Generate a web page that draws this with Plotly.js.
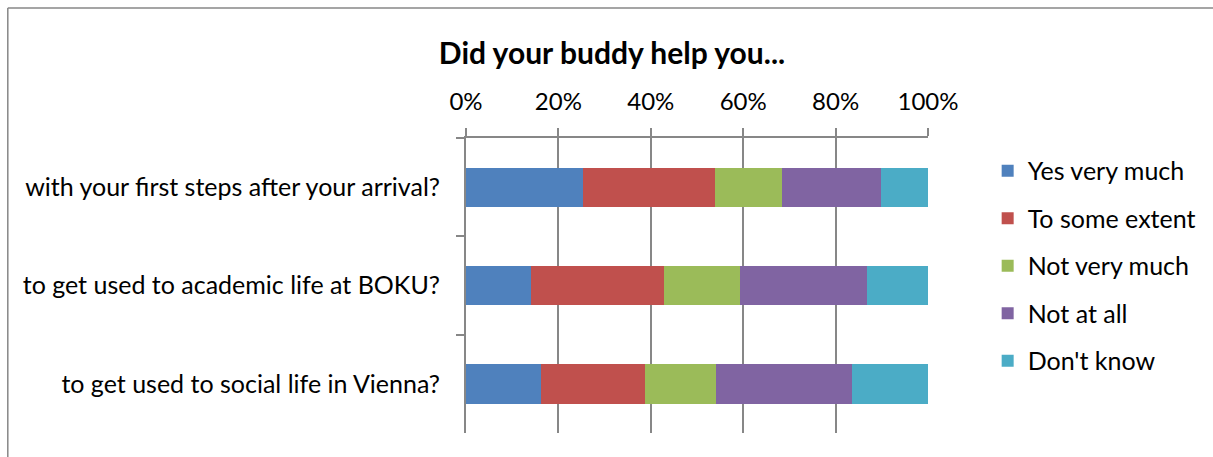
<!DOCTYPE html>
<html>
<head>
<meta charset="utf-8">
<script src="https://cdn.plot.ly/plotly-3.0.1.min.js"></script>
<style>
html,body{margin:0;padding:0;background:#fff;}
#chart{width:1213px;height:457px;}
</style>
</head>
<body>
<div id="chart"></div>
<script>
const categories = [
  "with your first steps after your arrival?",
  "to get used to academic life at BOKU?",
  "to get used to social life in Vienna?"
];
const seriesNames = ["Yes very much", "To some extent", "Not very much", "Not at all", "Don't know"];
const yesVeryMuch  = [25.4, 14.1, 16.2];
const toSomeExtent = [28.6, 28.7, 22.5];
const notVeryMuch  = [14.4, 16.5, 15.4];
const notAtAll     = [21.4, 27.4, 29.5];
const dontKnow     = [10.2, 13.3, 16.4];
const colors = ["#4F81BD", "#C0504D", "#9BBB59", "#8064A2", "#4BACC6"];
const tickVals = [0, 20, 40, 60, 80, 100];
const tickText = ["0%", "20%", "40%", "60%", "80%", "100%"];

const seriesValues = [yesVeryMuch, toSomeExtent, notVeryMuch, notAtAll, dontKnow];
const FONT = "Lato, 'Open Sans', sans-serif";

const traces = seriesValues.map((vals, i) => ({
  type: "bar",
  orientation: "h",
  name: seriesNames[i],
  x: vals,
  y: categories,
  legendgroup: "g" + i,
  marker: {color: colors[i], line: {width: 0}},
  hoverinfo: "name+x"
}));

const L = 466, R = 1213 - 928.3, T = 138.3, B = 457 - 432.7;
const pw = 1213 - L - R, ph = 457 - T - B;
const px = v => (v - L) / pw;
const py = v => (457 - B - v) / ph;

const layout = {
  width: 1213, height: 457,
  margin: {l: L, r: R, t: T, b: B, pad: 0},
  paper_bgcolor: "#ffffff",
  plot_bgcolor: "#ffffff",
  barmode: "stack",
  bargap: 0.6,
  font: {family: FONT, size: 25, color: "#000"},
  title: {
    text: "<b>Did your buddy help you...</b>",
    font: {family: FONT, size: 30, color: "#000"},
    xref: "container", x: 612 / 1213, xanchor: "center",
    yref: "container", y: 1 - 53 / 457, yanchor: "middle"
  },
  xaxis: {
    side: "top",
    range: [0, 100],
    tickmode: "array",
    tickvals: tickVals,
    ticktext: tickText,
    ticks: "outside",
    ticklen: 8,
    tickwidth: 2,
    tickcolor: "#878787",
    ticklabelstandoff: 8,
    showgrid: true,
    gridcolor: "#878787",
    gridwidth: 2,
    showline: true,
    linecolor: "#878787",
    linewidth: 2,
    zeroline: false,
    tickfont: {family: FONT, size: 24, color: "#000"},
    fixedrange: true
  },
  yaxis: {
    type: "category",
    autorange: "reversed",
    tickson: "boundaries",
    ticks: "outside",
    ticklen: 8,
    tickwidth: 2,
    tickcolor: "#878787",
    ticklabelstandoff: 19,
    showgrid: false,
    showline: true,
    linecolor: "#878787",
    linewidth: 2,
    zeroline: false,
    tickfont: {family: FONT, size: 25, color: "#000"},
    fixedrange: true
  },
  legend: {
    x: px(988), xanchor: "left",
    y: py(266), yanchor: "middle",
    traceorder: "grouped",
    tracegroupgap: 12,
    font: {family: FONT, size: 25, color: "#000"},
    bgcolor: "rgba(0,0,0,0)",
    borderwidth: 0,
    itemclick: false, itemdoubleclick: false
  },
  shapes: [
    {
      type: "line", xref: "paper", yref: "paper",
      x0: px(7.5), x1: px(1300), y0: py(8.5), y1: py(8.5),
      line: {color: "#878787", width: 1.5}, layer: "below"
    },
    {
      type: "line", xref: "paper", yref: "paper",
      x0: px(7.5), x1: px(7.5), y0: py(8.5), y1: py(600),
      line: {color: "#878787", width: 1.5}, layer: "below"
    }
  ],
  showlegend: true
};

Plotly.newPlot("chart", traces, layout, {displayModeBar: false, staticPlot: true});
</script>
</body>
</html>
